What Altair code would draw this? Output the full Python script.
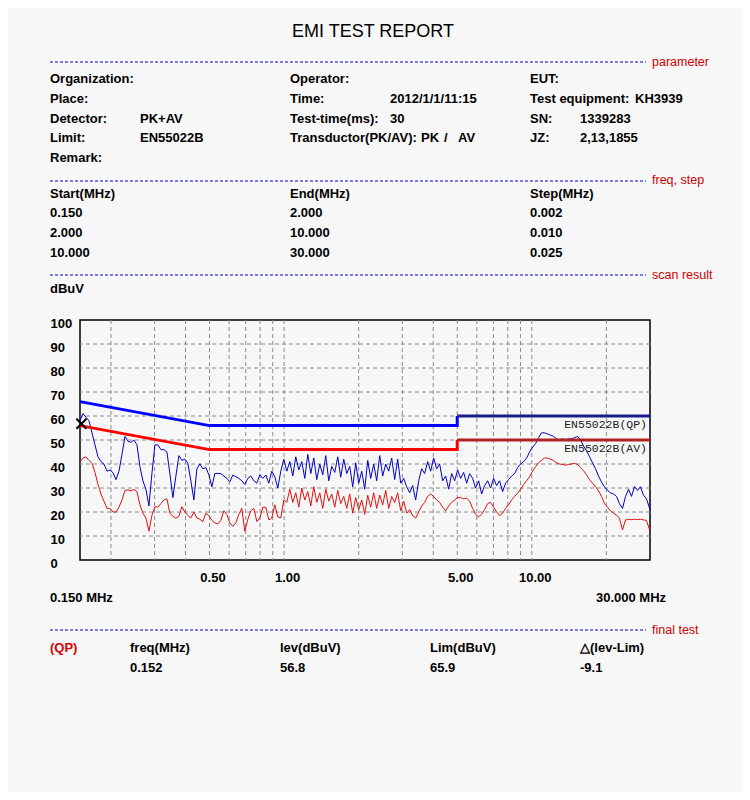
import altair as alt
import pandas as pd

# ---------------- data ----------------
freq = [
    0.1500, 0.1542, 0.1586, 0.1631, 0.1677, 0.1724, 0.1773, 0.1823, 0.1874, 0.1928,
    0.1982, 0.2038, 0.2096, 0.2155, 0.2216, 0.2279, 0.2343, 0.2408, 0.2476, 0.2547,
    0.2618, 0.2692, 0.2768, 0.2847, 0.2927, 0.3010, 0.3095, 0.3182, 0.3272, 0.3365,
    0.3459, 0.3557, 0.3658, 0.3761, 0.3867, 0.3977, 0.4089, 0.4204, 0.4323, 0.4445,
    0.4571, 0.4700, 0.4833, 0.4970, 0.5109, 0.5254, 0.5402, 0.5554, 0.5712, 0.5873,
    0.6039, 0.6210, 0.6386, 0.6566, 0.6751, 0.6942, 0.7139, 0.7340, 0.7548, 0.7761,
    0.7979, 0.8205, 0.8437, 0.8676, 0.8920, 0.9173, 0.9432, 0.9698, 0.9972, 1.0254,
    1.0543, 1.0841, 1.1148, 1.1464, 1.1786, 1.2120, 1.2463, 1.2814, 1.3176, 1.3549,
    1.3930, 1.4324, 1.4729, 1.5146, 1.5573, 1.6014, 1.6467, 1.6931, 1.7410, 1.7903,
    1.8406, 1.8927, 1.9462, 2.0013, 2.0576, 2.1158, 2.1757, 2.2370, 2.3003, 2.3654,
    2.4320, 2.5008, 2.5716, 2.6443, 2.7187, 2.7956, 2.8748, 2.9558, 3.0394, 3.1254,
    3.2134, 3.3043, 3.3978, 3.4940, 3.5922, 3.6939, 3.7985, 3.9054, 4.0160, 4.1296,
    4.2459, 4.3660, 4.4896, 4.6167, 4.7465, 4.8809, 5.0191, 5.1604, 5.3064, 5.4566,
    5.6101, 5.7688, 5.9321, 6.1000, 6.2716, 6.4491, 6.6317, 6.8184, 7.0113, 7.2098,
    7.4127, 7.6223, 7.8382, 8.0601, 8.2868, 8.5214, 8.7627, 9.0092, 9.2641, 9.5263,
    9.7945, 10.0715, 10.3568, 10.650, 10.950, 11.260, 11.578, 11.904, 12.241, 12.588,
    12.942, 13.308, 13.685, 14.072, 14.467, 14.877, 15.298, 15.729, 16.174, 16.631,
    17.100, 17.584, 18.082, 18.594, 19.116, 19.657, 20.214, 20.782, 21.370, 21.975,
    22.594, 23.233, 23.891, 24.567, 25.258, 25.973, 26.709, 27.460, 28.237, 29.036, 30.0,
]

qp_level = [
    58, 61, 59.5, 58, 53, 48, 43, 41, 40, 37,
    37.5, 36.4, 33.5, 37, 44, 51.5, 49.5, 49, 50, 48,
    39, 33, 29.5, 22.5, 36, 48, 47.9, 46, 46, 45,
    36, 26, 35, 43.5, 41.5, 42, 40.3, 33, 25, 38,
    40, 38, 38.5, 35.5, 30.5, 36, 36.1, 36, 35, 34,
    32.6, 35.4, 34.7, 34, 33, 31.5, 34, 35, 33, 32,
    35.5, 34, 35.4, 32, 37, 34.7, 30, 37, 42, 37,
    41, 35, 43, 37.5, 41, 34, 44, 36, 42.5, 33.5,
    40, 35.5, 43.5, 33, 39, 36.5, 43, 34.5, 42, 36,
    39, 30.5, 40.5, 32, 37, 29.5, 41.5, 34, 40, 33,
    43.5, 35, 40, 37, 42.5, 33.5, 42, 32, 34, 30.5,
    28, 31, 25, 33, 38, 36, 41, 37, 42.5, 38,
    40, 33, 35, 29.5, 36, 33, 37.5, 34, 36.5, 32,
    36, 34, 30, 33, 27.5, 31, 33, 30, 34, 31,
    33, 28.5, 32, 33.5, 35, 36, 38.5, 40, 41, 42.4,
    45, 47, 48.5, 51, 53, 53, 52.5, 52, 51.5, 50.5,
    50, 50.5, 50, 50.5, 50.5, 51, 51.5, 50, 47.5, 45.5,
    43, 40.5, 38, 35, 32.5, 30.5, 29, 28, 27.5, 26.5,
    23.5, 21.5, 26.4, 29.5, 26.5, 30.6, 29, 30.5, 27, 25.5, 21,
]

av_level = [
    41, 42.4, 43, 41.5, 40.3, 36.5, 31.5, 27.5, 24.5, 21.5,
    21.5, 20, 20, 22, 25, 29, 29.2, 28.8, 29.4, 28.5,
    23, 19.5, 17.5, 12, 18.5, 22.2, 22, 23.5, 25, 25.5,
    19.4, 18.3, 17.4, 18.2, 22.2, 20, 18.5, 17.5, 20, 17.5,
    17, 16, 19.5, 18.5, 16.5, 15.5, 15, 16.5, 20.5, 19,
    15.5, 14, 15.5, 19, 21.5, 12, 17, 20.5, 21.5, 16,
    17.5, 22, 22, 16.7, 17.5, 23, 18, 17.5, 25, 24,
    29.5, 24, 28, 22, 30, 25, 28.5, 22.5, 30.5, 24,
    28, 21.5, 29.5, 24.5, 27.5, 22, 29, 23.5, 26.5, 21.5,
    27.5, 19.5, 26, 21, 25, 19, 27, 22, 28, 21.5,
    27, 23, 29, 21.5, 26.5, 24, 28, 20.5, 24.5, 19.5,
    21, 18.5, 17.5, 20, 22.5, 24, 26.5, 27.5, 26.5, 25,
    24, 22, 20.5, 22.5, 24, 25, 26, 26, 25.5, 25.8,
    24.5, 21.5, 19, 18, 19, 21, 23.5, 24, 22, 20,
    18.5, 19.5, 21.5, 23, 25, 26.5, 27.8, 29.5, 31.5, 33,
    34.7, 37, 38.9, 40.5, 41.5, 42.5, 42.5, 42, 41.5, 40.5,
    40, 39.8, 39.5, 39.8, 40, 40.3, 39.8, 38.5, 37.2, 35.5,
    33.5, 32, 30.5, 28.8, 26.5, 23.5, 22, 20.5, 19.5, 18.7,
    17.4, 12.5, 16.7, 16.9, 16.8, 17, 16.8, 17, 16.7, 16.5, 12,
]

# EN55022B limits
limit_freq = [0.15, 0.5, 5, 5, 30]
qp_limit = [66, 56, 56, 60, 60]
av_limit = [56, 46, 46, 50, 50]

grid_freq = [0.2, 0.3, 0.4, 0.5, 0.6, 0.7, 0.8, 0.9, 1, 2, 3, 4, 5, 6, 7, 8, 9, 10, 20]
grid_level = [10, 20, 30, 40, 50, 60, 70, 80, 90]
x_ticks = [0.5, 1, 5, 10]
y_ticks = [0, 10, 20, 30, 40, 50, 60, 70, 80, 90, 100]

final_freq = [0.152]
final_lev = [56.8]
final_lim = [65.9]
final_delta = [-9.1]

# ---------------- tables ----------------
n = min(len(freq), len(qp_level), len(av_level))
scan = pd.DataFrame({"freq": freq[:n], "qp": qp_level[:n], "av": av_level[:n]})

lim_rows = []
for i, (f, q, a) in enumerate(zip(limit_freq, qp_limit, av_limit)):
    if i <= 3:
        lim_rows.append({"freq": f, "level": q, "seg": "qp_a", "i": i})
        lim_rows.append({"freq": f, "level": a, "seg": "av_a", "i": i})
    if i >= 3:
        lim_rows.append({"freq": f, "level": q, "seg": "qp_b", "i": i})
        lim_rows.append({"freq": f, "level": a, "seg": "av_b", "i": i})
limits = pd.DataFrame(lim_rows)

FONT = "Liberation Sans"
BG = "#f7f7f7"

x_scale = alt.Scale(type="log", domain=[0.15, 30], nice=False)
y_scale = alt.Scale(domain=[0, 100], nice=False, zero=False)
x_axis = alt.Axis(values=x_ticks, format=".2f", title=None, grid=False, ticks=False,
                  domain=False, labelFont=FONT, labelFontSize=13, labelFontWeight="bold",
                  labelColor="black", labelPadding=11, labelOffset=3, labelFlush=False)
y_axis = alt.Axis(values=y_ticks, title=None, grid=False, ticks=False, domain=False,
                  labelFont=FONT, labelFontSize=13, labelFontWeight="bold",
                  labelColor="black", labelAlign="left", labelPadding=30,
                  labelBaseline="middle", labelOffset=3, labelFlush=False)


def X(field):
    return alt.X(field, type="quantitative", scale=x_scale, axis=x_axis)


def Y(field):
    return alt.Y(field, type="quantitative", scale=y_scale, axis=y_axis)


layers = []

# grid
layers.append(alt.Chart(pd.DataFrame({"g": grid_freq})).mark_rule(
    color="#8a8a8a", strokeDash=[4, 3], strokeWidth=1).encode(x=X("g")))
layers.append(alt.Chart(pd.DataFrame({"h": grid_level})).mark_rule(
    color="#8a8a8a", strokeDash=[4, 3], strokeWidth=1).encode(y=Y("h")))

# traces
layers.append(alt.Chart(scan).mark_line(color="#e01010", strokeWidth=1).encode(
    x=X("freq"), y=Y("av")))
layers.append(alt.Chart(scan).mark_line(color="#0000c8", strokeWidth=1).encode(
    x=X("freq"), y=Y("qp")))

# limits
lim_colors = {"qp_a": "#0000ff", "qp_b": "#1c1c8e", "av_a": "#ff0000", "av_b": "#b22222"}
for seg, col in lim_colors.items():
    layers.append(alt.Chart(limits[limits.seg == seg]).mark_line(
        color=col, strokeWidth=3).encode(x=X("freq"), y=Y("level"), order="i:Q"))

# limit labels
lim_lab = pd.DataFrame({"freq": [30, 30], "level": [qp_limit[-1], av_limit[-1]],
                        "label": ["EN55022B(QP)", "EN55022B(AV)"]})
layers.append(alt.Chart(lim_lab).mark_text(
    align="right", baseline="middle", dx=-3, dy=9, font="Liberation Mono",
    fontSize=11.5, color="#202020").encode(x=X("freq"), y=Y("level"), text="label:N"))

# final test marker
marker = pd.DataFrame({"freq": final_freq, "level": final_lev})
layers.append(alt.Chart(marker).mark_point(
    shape="M-1,-1L1,1M-1,1L1,-1", filled=False, strokeWidth=2, color="black",
    size=100, opacity=1).encode(x=X("freq"), y=Y("level")))

# ---------------- report text ----------------
OX, OY = 80, 320


def place(rows):
    return pd.DataFrame({"t": [r[0] for r in rows],
                         "px": [r[1] - OX for r in rows],
                         "py": [r[2] - OY for r in rows]})


def text_layer(rows, **kw):
    return alt.Chart(place(rows)).mark_text(baseline="middle", **kw).encode(
        x=alt.X("px:Q", scale=None, axis=None),
        y=alt.Y("py:Q", scale=None, axis=None),
        text="t:N")


title_rows = [("EMI TEST REPORT", 373, 32)]
body_rows = [
    ("Organization:", 50, 79), ("Operator:", 290, 79), ("EUT:", 530, 79),
    ("Place:", 50, 99), ("Time:", 290, 99), ("2012/1/1/11:15", 390, 99),
    ("Test equipment:", 530, 99), ("KH3939", 635, 99),
    ("Detector:", 50, 119), ("PK+AV", 140, 119), ("Test-time(ms):", 290, 119),
    ("30", 390, 119), ("SN:", 530, 119), ("1339283", 580, 119),
    ("Limit:", 50, 138), ("EN55022B", 140, 138), ("Transductor(PK/AV):", 290, 138),
    ("PK", 421, 138), ("/", 444, 138), ("AV", 458, 138),
    ("JZ:", 530, 138), ("2,13,1855", 580, 138),
    ("Remark:", 50, 158),
    ("Start(MHz)", 50, 194), ("End(MHz)", 290, 194), ("Step(MHz)", 530, 194),
    ("0.150", 50, 213), ("2.000", 290, 213), ("0.002", 530, 213),
    ("2.000", 50, 233), ("10.000", 290, 233), ("0.010", 530, 233),
    ("10.000", 50, 253), ("30.000", 290, 253), ("0.025", 530, 253),
    ("dBuV", 50, 289),
    ("0.150 MHz", 50, 598), ("30.000 MHz", 596, 598),
    ("freq(MHz)", 130, 648), ("lev(dBuV)", 280, 648), ("Lim(dBuV)", 430, 648),
    ("\u25b3(lev-Lim)", 580, 648),
    (f"{final_freq[0]:.3f}", 130, 668), (f"{final_lev[0]:.1f}", 280, 668),
    (f"{final_lim[0]:.1f}", 430, 668), (f"{final_delta[0]:.1f}", 580, 668),
]
section_rows = [("parameter", 652, 62), ("freq, step", 652, 180),
                ("scan result", 652, 275), ("final test", 652, 630)]
qp_rows = [("(QP)", 50, 648)]

dummy = pd.DataFrame({"a": [0]})
for sy in [62, 181, 275, 630]:
    layers.append(alt.Chart(dummy).mark_rule(
        color="#0000cc", strokeDash=[3, 2], strokeWidth=1).encode(
        x=alt.value(50 - OX), x2=alt.value(646 - OX), y=alt.value(sy - OY)))

layers.append(text_layer(title_rows, align="center", font=FONT, fontSize=18, color="black"))
layers.append(text_layer(body_rows, align="left", font=FONT, fontSize=13,
                         fontWeight="bold", color="black"))
layers.append(text_layer(section_rows, align="left", font=FONT, fontSize=12.5,
                         color="#d00000"))
layers.append(text_layer(qp_rows, align="left", font=FONT, fontSize=13,
                         fontWeight="bold", color="#e00000"))

chart = alt.layer(*layers).properties(
    width=570, height=240,
    padding={"left": 72, "top": 312, "right": 92, "bottom": 232},
    autosize=alt.AutoSizeParams(type="none"),
    background=BG,
).configure_view(stroke="black", strokeWidth=1.5, fill=BG)

chart.save("out.html", embed_options={"renderer": "svg", "actions": False})
